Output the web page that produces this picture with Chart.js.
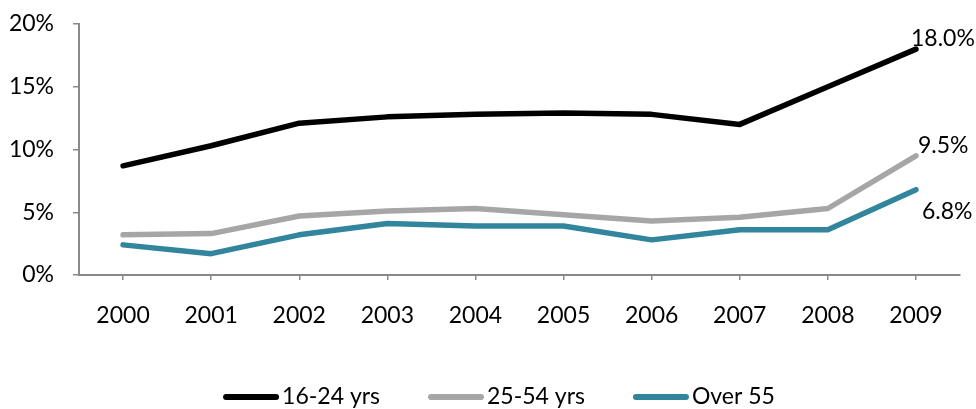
<!DOCTYPE html>
<html>
<head>
<meta charset="utf-8">
<title>Rates by age group</title>
<script src="https://cdn.jsdelivr.net/npm/chart.js@4/dist/chart.umd.min.js"></script>
<style>
  html, body { margin: 0; padding: 0; background: #fff; }
  #wrap { width: 976px; height: 409px; position: relative; }
</style>
</head>
<body>
<div id="wrap"><canvas id="lineChart"></canvas></div>
<script>
// data
const years = ['2000', '2001', '2002', '2003', '2004', '2005', '2006', '2007', '2008', '2009'];
const youngRates = [8.7, 10.3, 12.1, 12.6, 12.8, 12.9, 12.8, 12.0, 15.0, 18.0];
const primeRates = [3.2, 3.3, 4.7, 5.1, 5.3, 4.8, 4.3, 4.6, 5.3, 9.5];
const olderRates = [2.4, 1.7, 3.2, 4.1, 3.9, 3.9, 2.8, 3.6, 3.6, 6.8];
const seriesNames = ['16-24 yrs', '25-54 yrs', 'Over 55'];
const yTicks = [0, 5, 10, 15, 20];

const FONT = 'Lato, "Open Sans", sans-serif';
const AXIS_GREY = '#898989';

// value label next to the last point of each line (dx, dy from the point)
const endLabelOffsets = [
    { dx: -5, dy: -11 },
    { dx: 2, dy: -10 },
    { dx: 6, dy: 22 }
];

const endLabels = {
    id: 'endLabels',
    afterDatasetsDraw(chart) {
        const ctx = chart.ctx;
        ctx.save();
        ctx.font = '23px ' + FONT;
        ctx.fillStyle = '#000';
        ctx.textAlign = 'left';
        ctx.textBaseline = 'middle';
        chart.data.datasets.forEach((ds, i) => {
            const meta = chart.getDatasetMeta(i);
            const last = meta.data.length - 1;
            const pt = meta.data[last];
            const off = endLabelOffsets[i];
            ctx.fillText(ds.data[last].toFixed(1) + '%', pt.x + off.dx, pt.y + off.dy);
        });
        ctx.restore();
    }
};

// legend drawn as one centred row: thick line swatch, then the name
const legendRow = {
    id: 'legendRow',
    afterDraw(chart, args, opts) {
        const ctx = chart.ctx;
        ctx.save();
        ctx.font = opts.fontSize + 'px ' + FONT;
        const items = chart.data.datasets.map(ds => ({
            ds: ds,
            w: opts.lineLength + opts.textGap + ctx.measureText(ds.label).width
        }));
        const total = items.reduce((s, it) => s + it.w, 0) + opts.itemGap * (items.length - 1);
        let x = opts.centerX - total / 2;
        const y = opts.y;
        items.forEach(it => {
            ctx.strokeStyle = it.ds.borderColor;
            ctx.lineWidth = opts.lineWidth;
            ctx.lineCap = 'round';
            ctx.beginPath();
            ctx.moveTo(x + opts.lineWidth / 2, y);
            ctx.lineTo(x + opts.lineLength - opts.lineWidth / 2, y);
            ctx.stroke();
            ctx.fillStyle = '#000';
            ctx.textAlign = 'left';
            ctx.textBaseline = 'middle';
            ctx.fillText(it.ds.label, x + opts.lineLength + opts.textGap, y);
            x += it.w + opts.itemGap;
        });
        ctx.restore();
    }
};

function lineSet(label, data, color) {
    return {
        label: label,
        data: data,
        borderColor: color,
        backgroundColor: color,
        borderWidth: 5.5,
        borderCapStyle: 'round',
        borderJoinStyle: 'round',
        pointRadius: 0,
        pointHoverRadius: 0,
        tension: 0,
        fill: false
    };
}

const ctx = document.getElementById('lineChart').getContext('2d');
new Chart(ctx, {
    type: 'line',
    data: {
        labels: years,
        datasets: [
            lineSet(seriesNames[0], youngRates, '#000000'),
            lineSet(seriesNames[1], primeRates, '#a6a6a6'),
            lineSet(seriesNames[2], olderRates, '#31859c')
        ]
    },
    options: {
        responsive: true,
        maintainAspectRatio: false,
        animation: false,
        layout: { padding: { top: 24, right: 16, bottom: 0, left: 0 } },
        plugins: {
            legend: { display: false },
            tooltip: { enabled: false },
            legendRow: {
                centerX: 499,
                y: 397,
                fontSize: 23,
                lineLength: 56,
                lineWidth: 6,
                textGap: 3,
                itemGap: 48
            }
        },
        scales: {
            x: {
                offset: true,
                grid: {
                    display: true,
                    offset: false,
                    drawOnChartArea: false,
                    drawTicks: true,
                    tickLength: 5,
                    color: AXIS_GREY,
                    lineWidth: 1.5
                },
                border: { display: true, color: AXIS_GREY, width: 2 },
                ticks: {
                    color: '#000',
                    font: { family: FONT, size: 23 },
                    padding: 22,
                    maxRotation: 0,
                    autoSkip: false
                },
                afterFit: scale => { scale.height = 134; }
            },
            y: {
                min: 0,
                max: 20,
                afterBuildTicks: scale => {
                    scale.ticks = yTicks.map(v => ({ value: v }));
                },
                grid: {
                    display: true,
                    drawOnChartArea: false,
                    drawTicks: true,
                    tickLength: 6,
                    color: AXIS_GREY,
                    lineWidth: 1.5
                },
                border: { display: true, color: AXIS_GREY, width: 2 },
                ticks: {
                    color: '#000',
                    font: { family: FONT, size: 23 },
                    padding: 19,
                    callback: v => v + '%'
                },
                // fixed width; top/bottom room comes from the layout padding
                afterFit: scale => {
                    scale.width = 79;
                    scale.paddingTop = 0;
                    scale.paddingBottom = 0;
                }
            }
        }
    },
    plugins: [endLabels, legendRow]
});
</script>
</body>
</html>
